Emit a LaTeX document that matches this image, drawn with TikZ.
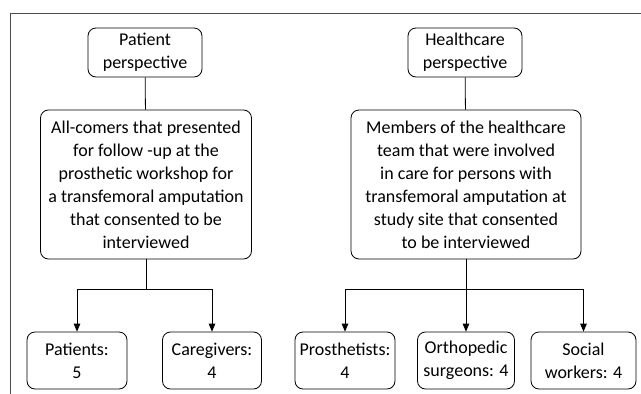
\documentclass[tikz,border=0pt]{standalone}
\usepackage{fontspec}
\setmainfont{Carlito}
\usetikzlibrary{positioning,arrows}
\tikzset{
box/.style={draw, rounded corners=8pt, thick, align=center, inner sep=2pt, font=\fontsize{18}{23}\selectfont},
link/.style={thick},
arr/.style={thick, -triangle 45}
}

\begin{document}
\begin{tikzpicture}[x=1pt,y=-1pt]
\useasboundingbox (0,0) rectangle (641,394);
\draw[gray!60!black] (10,394) -- (10,13) -- (641,13);

% perspectives
\node[box, minimum width=114pt, minimum height=49pt] (pp) at (145,52.5) {Patient\\perspective};
\node[box, minimum width=114pt, minimum height=49pt] (hp) at (465,52.5) {Healthcare\\perspective};

% inclusion
\node[box, minimum width=211pt, minimum height=149pt] (pinc) at (146,184.5) {All-comers that presented\\for follow -up at the\\prosthetic workshop for\\a transfemoral amputation\\that consented to be\\interviewed};
\node[box, minimum width=230pt, minimum height=149pt] (hinc) at (466,184.5) {Members of the healthcare\\team that were involved\\in care for persons with\\transfemoral amputation at\\study site that consented\\to be interviewed};

% groups
\node[box, minimum width=100pt, minimum height=57pt] (pat) at (77,360.5) {Patients:\\5};
\node[box, minimum width=99pt, minimum height=57pt] (care) at (212,360.5) {Caregivers:\\4};
\node[box, minimum width=100pt, minimum height=57pt] (pros) at (345,360.5) {Prosthetists:\\4};
\node[box, minimum width=97pt, minimum height=57pt] (orth) at (466,360.5) {Orthopedic\\surgeons: 4};
\node[box, minimum width=105pt, minimum height=57pt] (soc) at (583.5,360.5) {Social\\workers: 4};

\draw[link] (pp) -- (pinc);
\draw[link] (hp) -- (hinc);
\draw[arr] (pinc.south) -- ++(0,30) -| (pat.north);
\draw[arr] (pinc.south) -- ++(0,30) -| (care.north);
\draw[arr] (hinc.south) -- ++(0,30) -| (pros.north);
\draw[arr] (hinc.south) -- (orth.north);
\draw[arr] (hinc.south) -- ++(0,30) -| (soc.north);
\end{tikzpicture}
\end{document}
